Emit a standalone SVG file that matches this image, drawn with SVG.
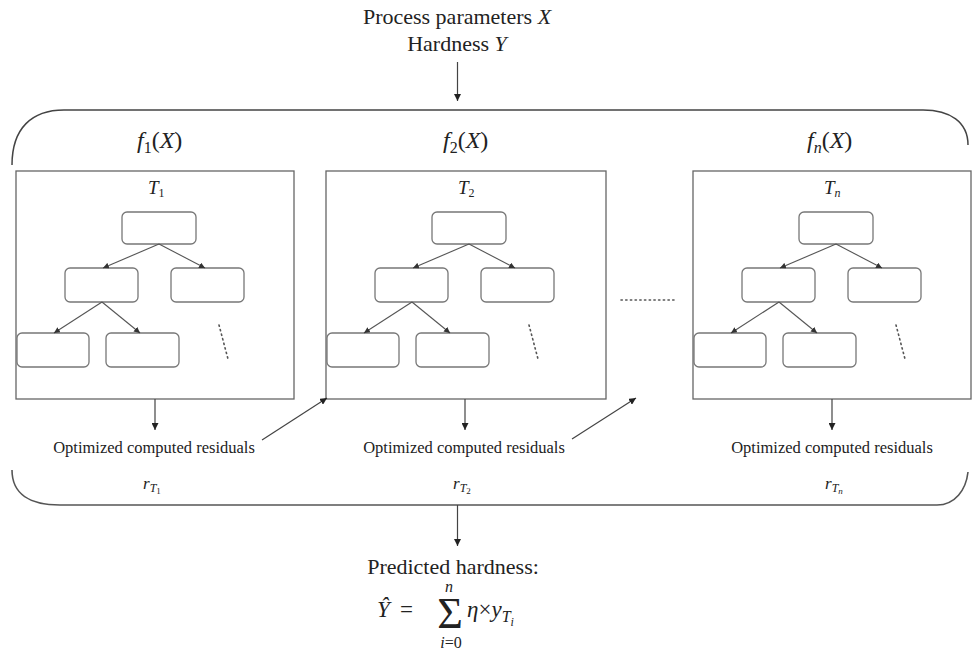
<svg xmlns="http://www.w3.org/2000/svg" width="973" height="653" viewBox="0 0 973 653">
<defs>
<marker id="ah" viewBox="0 0 10 10" refX="10" refY="5" markerWidth="7" markerHeight="7" markerUnits="userSpaceOnUse" orient="auto">
<path d="M0,0 L10,5 L0,10 z" fill="#222"/>
</marker>
<marker id="ahs" viewBox="0 0 10 10" refX="10" refY="5" markerWidth="6" markerHeight="6" markerUnits="userSpaceOnUse" orient="auto">
<path d="M0,0 L10,5 L0,10 z" fill="#333"/>
</marker>
<style>
.t{font-family:"Liberation Serif","Times New Roman",serif;fill:#222}
.m{font-family:"Liberation Serif","Times New Roman",serif;font-style:italic;fill:#222}
.box{fill:#fff;stroke:#666;stroke-width:1.3}
.nd{fill:#fff;stroke:#777;stroke-width:1.3}
.ln{fill:none;stroke:#444;stroke-width:1.2}
.tl{fill:none;stroke:#555;stroke-width:1.1;marker-end:url(#ahs)}
.dot{fill:none;stroke:#555;stroke-width:1.6;stroke-dasharray:1.3 3.4;stroke-linecap:round}
</style>
</defs>
<rect width="973" height="653" fill="#fff"/>

<g id="input">
<text class="t" x="457" y="24" font-size="22" text-anchor="middle">Process parameters <tspan class="m">X</tspan></text>
<text class="t" x="457" y="51" font-size="22" text-anchor="middle">Hardness <tspan class="m">Y</tspan></text>
</g>

<g id="ensemble">
<path d="M12,165 C12,128 32,110 64,110 L923,110 C950,110 968,122 968,145" fill="none" stroke="#444" stroke-width="1.5"/>
<path d="M12,470 C12,494 30,505 60,505 L937,505 C955,505 966,490 968,472" fill="none" stroke="#555" stroke-width="1.6"/>
<text class="m" x="137" y="148" font-size="24">f<tspan font-size="16" dy="5" font-style="normal">1</tspan><tspan dy="-5" font-style="normal">(</tspan>X<tspan font-style="normal">)</tspan></text>
<text class="m" x="443" y="148" font-size="24">f<tspan font-size="16" dy="5" font-style="normal">2</tspan><tspan dy="-5" font-style="normal">(</tspan>X<tspan font-style="normal">)</tspan></text>
<text class="m" x="807" y="148" font-size="24">f<tspan font-size="16" dy="5">n</tspan><tspan dy="-5" font-style="normal">(</tspan>X<tspan font-style="normal">)</tspan></text>
</g>

<g id="tree1">
<rect class="box" x="16" y="171" width="278" height="228"/>
<text class="m" x="148" y="194" font-size="19">T<tspan font-size="12" dy="3" font-style="normal">1</tspan></text>
<rect class="nd" x="122" y="212" width="74" height="32" rx="5"/>
<rect class="nd" x="65" y="268" width="73" height="34" rx="5"/>
<rect class="nd" x="171" y="268" width="73" height="34" rx="5"/>
<rect class="nd" x="17" y="333" width="72" height="34" rx="5"/>
<rect class="nd" x="106" y="333" width="73" height="34" rx="5"/>
<path class="tl" d="M159,244 L103,268"/>
<path class="tl" d="M159,244 L205,268"/>
<path class="tl" d="M102,302 L54,333"/>
<path class="tl" d="M102,302 L140,333"/>
<path class="dot" d="M219,325 L228,359"/>
</g>

<g id="tree2">
<rect class="box" x="326" y="171" width="280" height="228"/>
<text class="m" x="458" y="194" font-size="19">T<tspan font-size="12" dy="3" font-style="normal">2</tspan></text>
<rect class="nd" x="432" y="212" width="74" height="32" rx="5"/>
<rect class="nd" x="375" y="268" width="73" height="34" rx="5"/>
<rect class="nd" x="481" y="268" width="73" height="34" rx="5"/>
<rect class="nd" x="327" y="333" width="72" height="34" rx="5"/>
<rect class="nd" x="416" y="333" width="73" height="34" rx="5"/>
<path class="tl" d="M469,244 L413,268"/>
<path class="tl" d="M469,244 L515,268"/>
<path class="tl" d="M412,302 L364,333"/>
<path class="tl" d="M412,302 L450,333"/>
<path class="dot" d="M529,325 L538,359"/>
</g>

<g id="gap">
<path class="dot" d="M621,300 L676,300"/>
</g>

<g id="treen">
<rect class="box" x="693" y="171" width="278" height="228"/>
<text class="m" x="824" y="194" font-size="19">T<tspan font-size="12" dy="3">n</tspan></text>
<rect class="nd" x="799" y="212" width="74" height="32" rx="5"/>
<rect class="nd" x="742" y="268" width="73" height="34" rx="5"/>
<rect class="nd" x="848" y="268" width="73" height="34" rx="5"/>
<rect class="nd" x="694" y="333" width="72" height="34" rx="5"/>
<rect class="nd" x="783" y="333" width="73" height="34" rx="5"/>
<path class="tl" d="M836,244 L780,268"/>
<path class="tl" d="M836,244 L882,268"/>
<path class="tl" d="M779,302 L731,333"/>
<path class="tl" d="M779,302 L817,333"/>
<path class="dot" d="M896,325 L905,359"/>
</g>

<g id="residual1">
<text class="t" x="154" y="453" font-size="16.5" text-anchor="middle">Optimized computed residuals</text>
<text class="m" x="143" y="489" font-size="17">r<tspan font-size="12" dy="3">T</tspan><tspan font-size="9" dy="2" font-style="normal">1</tspan></text>
</g>
<g id="residual2">
<text class="t" x="464" y="453" font-size="16.5" text-anchor="middle">Optimized computed residuals</text>
<text class="m" x="453" y="489" font-size="17">r<tspan font-size="12" dy="3">T</tspan><tspan font-size="9" dy="2" font-style="normal">2</tspan></text>
</g>
<g id="residualn">
<text class="t" x="832" y="453" font-size="16.5" text-anchor="middle">Optimized computed residuals</text>
<text class="m" x="825" y="489" font-size="17">r<tspan font-size="12" dy="3">T</tspan><tspan font-size="9" dy="2">n</tspan></text>
</g>

<g id="output">
<text class="t" x="453" y="574" font-size="22" text-anchor="middle">Predicted hardness:</text>
<text class="m" x="377" y="617" font-size="23">Ŷ</text>
<text class="t" x="400" y="617" font-size="23">=</text>
<text class="t" x="450" y="628" font-size="44" text-anchor="middle">Σ</text>
<text class="m" x="449" y="592" font-size="16" text-anchor="middle">n</text>
<text class="m" x="451" y="648" font-size="16" text-anchor="middle">i<tspan font-style="normal">=0</tspan></text>
<text class="m" x="467" y="617" font-size="23">η<tspan font-style="normal">×</tspan>y<tspan font-size="16" dy="5">T</tspan><tspan font-size="12" dy="4">i</tspan></text>
</g>

<g id="connectors">
<path class="ln" d="M457.5,62 L457.5,101" marker-end="url(#ah)"/>
<path class="ln" d="M155,399 L155,430" marker-end="url(#ah)"/>
<path class="ln" d="M465,399 L465,430" marker-end="url(#ah)"/>
<path class="ln" d="M832,399 L832,430" marker-end="url(#ah)"/>
<path class="ln" d="M262,440 L327,398" marker-end="url(#ah)"/>
<path class="ln" d="M572,439 L636,398" marker-end="url(#ah)"/>
<path class="ln" d="M457.5,505 L457.5,546" marker-end="url(#ah)"/>
</g>
</svg>
